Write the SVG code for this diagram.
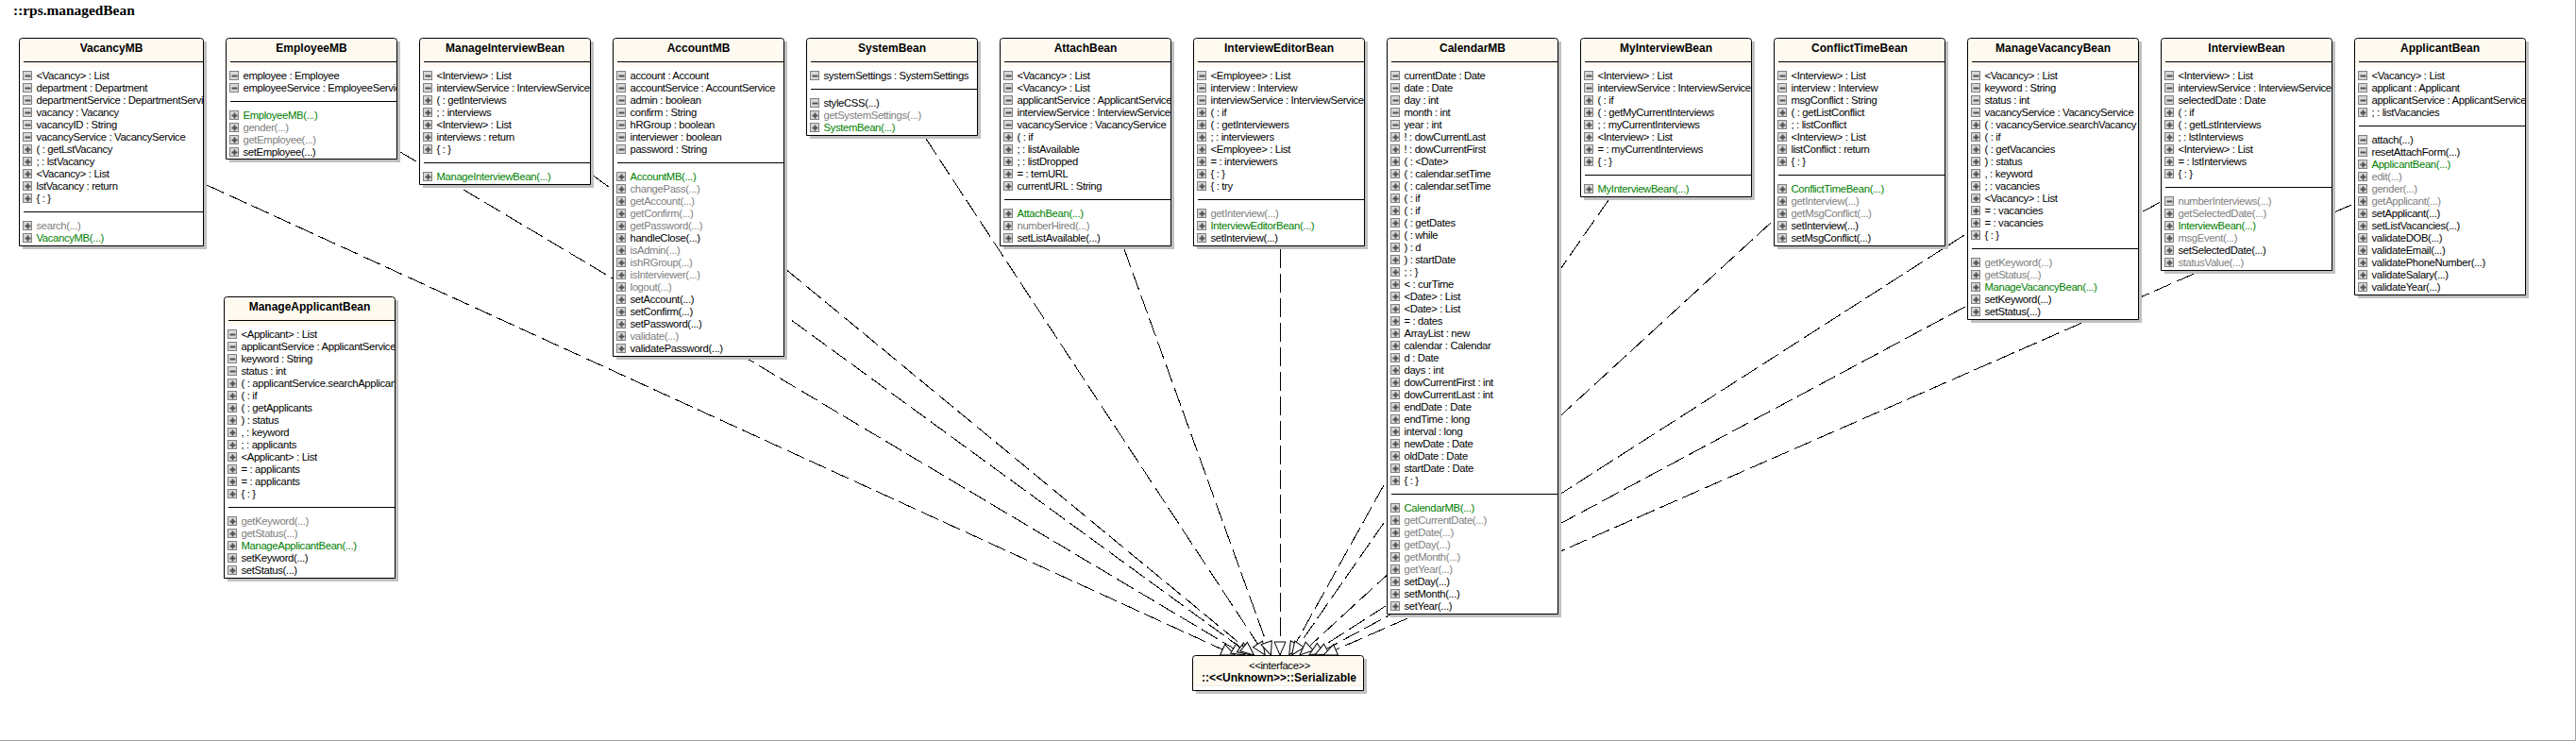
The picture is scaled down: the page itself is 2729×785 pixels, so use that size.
<svg xmlns="http://www.w3.org/2000/svg" xmlns:xlink="http://www.w3.org/1999/xlink" width="2729" height="785" viewBox="0 0 2729 785">
<style>
text{font-family:"Liberation Sans",Arial,sans-serif;font-size:11.3px;letter-spacing:-.35px;fill:#000}
.h{font-family:"Liberation Serif","Times New Roman",serif;font-size:15.4px;font-weight:bold;letter-spacing:0}
.t{font-size:12px;font-weight:bold;text-anchor:middle;letter-spacing:0}
.i{text-anchor:middle}
.g{fill:#808080}
.c{fill:#008000}
.sh{fill:#c0c0c0}
.bg{fill:#fff}
.cr{fill:#fffaf0}
.o{fill:none;stroke:#000;stroke-width:1}
.s{stroke:#000;stroke-width:1;shape-rendering:crispEdges}
.conn line{stroke:#000;stroke-width:1;stroke-dasharray:20 6;shape-rendering:crispEdges;marker-end:url(#tri)}
.frame{fill:none;stroke:#a0a0a0;stroke-width:1}
</style>
<defs>
<marker id="tri" markerUnits="userSpaceOnUse" viewBox="-1 -8 16 16" refX="14" refY="0" markerWidth="16" markerHeight="16" orient="auto"><path d="M0,-6L14,0L0,6Z" fill="#fff" stroke="#000" stroke-width="1"/></marker>
<g id="m"><rect x="0" y="0" width="9" height="9" fill="#d8d8d8" stroke="#808080"/><rect x="2" y="4" width="6" height="2" fill="#505050"/></g>
<g id="p"><rect x="0" y="0" width="9" height="9" fill="#d8d8d8" stroke="#808080"/><rect x="2" y="4" width="6" height="2" fill="#505050"/><rect x="4" y="2" width="2" height="6" fill="#505050"/></g>
<clipPath id="c181"><rect x="0" y="0" width="181" height="700"/></clipPath>
<clipPath id="c195"><rect x="0" y="0" width="195" height="700"/></clipPath>
<path id="cr181" d="M.5,30V3Q.5,.5 3,.5H178Q180.5,.5 180.5,3V30Z"/>
<path id="cr195" d="M.5,30V3Q.5,.5 3,.5H192Q194.5,.5 194.5,3V30Z"/>
</defs>
<rect class="bg" width="2729" height="785"/>
<path class="frame" d="M2728.5,0V784.5H0"/>
<text class="h" x="14" y="16">::rps.managedBean</text>
<g id="connectors" class="conn">
<line x1="219" y1="196" x2="1308" y2="694"/>
<line x1="424" y1="161" x2="1318.8" y2="694"/>
<line x1="629" y1="186.5" x2="1325.2" y2="694"/>
<line x1="834" y1="286.5" x2="1328.5" y2="694"/>
<line x1="981" y1="147" x2="1340.2" y2="694"/>
<line x1="1191" y1="264" x2="1346.4" y2="694"/>
<line x1="1356" y1="264" x2="1356" y2="694"/>
<line x1="1466" y1="514" x2="1365.7" y2="694"/>
<line x1="1704" y1="212" x2="1368.6" y2="694"/>
<line x1="1876" y1="236" x2="1376.9" y2="694"/>
<line x1="2081" y1="249" x2="1386.8" y2="694"/>
<line x1="2288" y1="214.5" x2="1393" y2="694"/>
<line x1="2491" y1="217" x2="1402.2" y2="694"/>
</g>

<g id="VacancyMB" transform="translate(20.5,40.5)">
<rect class="sh" x="3.5" y="3.5" width="195" height="220"/><rect class="bg" width="195" height="220"/><use href="#cr195" class="cr"/>
<path class="o" d="M0,220V3Q0,0 3,0H192Q195,0 195,3V220Z"/>
<path class="s" d="M4,25H195M4,184H195"/>
<g clip-path="url(#c195)">
<text class="t" x="97.5" y="14.5">VacancyMB</text>
<use href="#m" x="4" y="35"/><text x="18" y="43.5">&lt;Vacancy&gt; : List</text>
<use href="#m" x="4" y="48"/><text x="18" y="56.5">department : Department</text>
<use href="#m" x="4" y="61"/><text x="18" y="69.5">departmentService : DepartmentService</text>
<use href="#m" x="4" y="74"/><text x="18" y="82.5">vacancy : Vacancy</text>
<use href="#m" x="4" y="87"/><text x="18" y="95.5">vacancyID : String</text>
<use href="#m" x="4" y="100"/><text x="18" y="108.5">vacancyService : VacancyService</text>
<use href="#p" x="4" y="113"/><text x="18" y="121.5">( : getLstVacancy</text>
<use href="#p" x="4" y="126"/><text x="18" y="134.5">; : lstVacancy</text>
<use href="#p" x="4" y="139"/><text x="18" y="147.5">&lt;Vacancy&gt; : List</text>
<use href="#p" x="4" y="152"/><text x="18" y="160.5">lstVacancy : return</text>
<use href="#p" x="4" y="165"/><text x="18" y="173.5">{ : }</text>
<use href="#p" x="4" y="194"/><text class="g" x="18" y="202.5">search(...)</text>
<use href="#p" x="4" y="207"/><text class="c" x="18" y="215.5">VacancyMB(...)</text>
</g></g>

<g id="EmployeeMB" transform="translate(239.5,40.5)">
<rect class="sh" x="3.5" y="3.5" width="181" height="128"/><rect class="bg" width="181" height="128"/><use href="#cr181" class="cr"/>
<path class="o" d="M0,128V3Q0,0 3,0H178Q181,0 181,3V128Z"/>
<path class="s" d="M4,25H181M4,67H181"/>
<g clip-path="url(#c181)">
<text class="t" x="90.5" y="14.5">EmployeeMB</text>
<use href="#m" x="4" y="35"/><text x="18" y="43.5">employee : Employee</text>
<use href="#m" x="4" y="48"/><text x="18" y="56.5">employeeService : EmployeeService</text>
<use href="#p" x="4" y="77"/><text class="c" x="18" y="85.5">EmployeeMB(...)</text>
<use href="#p" x="4" y="90"/><text class="g" x="18" y="98.5">gender(...)</text>
<use href="#p" x="4" y="103"/><text class="g" x="18" y="111.5">getEmployee(...)</text>
<use href="#p" x="4" y="116"/><text x="18" y="124.5">setEmployee(...)</text>
</g></g>

<g id="ManageInterviewBean" transform="translate(444.5,40.5)">
<rect class="sh" x="3.5" y="3.5" width="181" height="155"/><rect class="bg" width="181" height="155"/><use href="#cr181" class="cr"/>
<path class="o" d="M0,155V3Q0,0 3,0H178Q181,0 181,3V155Z"/>
<path class="s" d="M4,25H181M4,132H181"/>
<g clip-path="url(#c181)">
<text class="t" x="90.5" y="14.5">ManageInterviewBean</text>
<use href="#m" x="4" y="35"/><text x="18" y="43.5">&lt;Interview&gt; : List</text>
<use href="#m" x="4" y="48"/><text x="18" y="56.5">interviewService : InterviewService</text>
<use href="#p" x="4" y="61"/><text x="18" y="69.5">( : getInterviews</text>
<use href="#p" x="4" y="74"/><text x="18" y="82.5">; : interviews</text>
<use href="#p" x="4" y="87"/><text x="18" y="95.5">&lt;Interview&gt; : List</text>
<use href="#p" x="4" y="100"/><text x="18" y="108.5">interviews : return</text>
<use href="#p" x="4" y="113"/><text x="18" y="121.5">{ : }</text>
<use href="#p" x="4" y="142"/><text class="c" x="18" y="150.5">ManageInterviewBean(...)</text>
</g></g>

<g id="AccountMB" transform="translate(649.5,40.5)">
<rect class="sh" x="3.5" y="3.5" width="181" height="337"/><rect class="bg" width="181" height="337"/><use href="#cr181" class="cr"/>
<path class="o" d="M0,337V3Q0,0 3,0H178Q181,0 181,3V337Z"/>
<path class="s" d="M4,25H181M4,132H181"/>
<g clip-path="url(#c181)">
<text class="t" x="90.5" y="14.5">AccountMB</text>
<use href="#m" x="4" y="35"/><text x="18" y="43.5">account : Account</text>
<use href="#m" x="4" y="48"/><text x="18" y="56.5">accountService : AccountService</text>
<use href="#m" x="4" y="61"/><text x="18" y="69.5">admin : boolean</text>
<use href="#m" x="4" y="74"/><text x="18" y="82.5">confirm : String</text>
<use href="#m" x="4" y="87"/><text x="18" y="95.5">hRGroup : boolean</text>
<use href="#m" x="4" y="100"/><text x="18" y="108.5">interviewer : boolean</text>
<use href="#m" x="4" y="113"/><text x="18" y="121.5">password : String</text>
<use href="#p" x="4" y="142"/><text class="c" x="18" y="150.5">AccountMB(...)</text>
<use href="#p" x="4" y="155"/><text class="g" x="18" y="163.5">changePass(...)</text>
<use href="#p" x="4" y="168"/><text class="g" x="18" y="176.5">getAccount(...)</text>
<use href="#p" x="4" y="181"/><text class="g" x="18" y="189.5">getConfirm(...)</text>
<use href="#p" x="4" y="194"/><text class="g" x="18" y="202.5">getPassword(...)</text>
<use href="#p" x="4" y="207"/><text x="18" y="215.5">handleClose(...)</text>
<use href="#p" x="4" y="220"/><text class="g" x="18" y="228.5">isAdmin(...)</text>
<use href="#p" x="4" y="233"/><text class="g" x="18" y="241.5">ishRGroup(...)</text>
<use href="#p" x="4" y="246"/><text class="g" x="18" y="254.5">isInterviewer(...)</text>
<use href="#p" x="4" y="259"/><text class="g" x="18" y="267.5">logout(...)</text>
<use href="#p" x="4" y="272"/><text x="18" y="280.5">setAccount(...)</text>
<use href="#p" x="4" y="285"/><text x="18" y="293.5">setConfirm(...)</text>
<use href="#p" x="4" y="298"/><text x="18" y="306.5">setPassword(...)</text>
<use href="#p" x="4" y="311"/><text class="g" x="18" y="319.5">validate(...)</text>
<use href="#p" x="4" y="324"/><text x="18" y="332.5">validatePassword(...)</text>
</g></g>

<g id="SystemBean" transform="translate(854.5,40.5)">
<rect class="sh" x="3.5" y="3.5" width="181" height="103"/><rect class="bg" width="181" height="103"/><use href="#cr181" class="cr"/>
<path class="o" d="M0,103V3Q0,0 3,0H178Q181,0 181,3V103Z"/>
<path class="s" d="M4,25H181M4,54H181"/>
<g clip-path="url(#c181)">
<text class="t" x="90.5" y="14.5">SystemBean</text>
<use href="#m" x="4" y="35"/><text x="18" y="43.5">systemSettings : SystemSettings</text>
<use href="#m" x="4" y="64"/><text x="18" y="72.5">styleCSS(...)</text>
<use href="#p" x="4" y="77"/><text class="g" x="18" y="85.5">getSystemSettings(...)</text>
<use href="#p" x="4" y="90"/><text class="c" x="18" y="98.5">SystemBean(...)</text>
</g></g>

<g id="AttachBean" transform="translate(1059.5,40.5)">
<rect class="sh" x="3.5" y="3.5" width="181" height="220"/><rect class="bg" width="181" height="220"/><use href="#cr181" class="cr"/>
<path class="o" d="M0,220V3Q0,0 3,0H178Q181,0 181,3V220Z"/>
<path class="s" d="M4,25H181M4,171H181"/>
<g clip-path="url(#c181)">
<text class="t" x="90.5" y="14.5">AttachBean</text>
<use href="#m" x="4" y="35"/><text x="18" y="43.5">&lt;Vacancy&gt; : List</text>
<use href="#m" x="4" y="48"/><text x="18" y="56.5">&lt;Vacancy&gt; : List</text>
<use href="#m" x="4" y="61"/><text x="18" y="69.5">applicantService : ApplicantService</text>
<use href="#m" x="4" y="74"/><text x="18" y="82.5">interviewService : InterviewService</text>
<use href="#m" x="4" y="87"/><text x="18" y="95.5">vacancyService : VacancyService</text>
<use href="#p" x="4" y="100"/><text x="18" y="108.5">( : if</text>
<use href="#p" x="4" y="113"/><text x="18" y="121.5">; : listAvailable</text>
<use href="#p" x="4" y="126"/><text x="18" y="134.5">; : listDropped</text>
<use href="#p" x="4" y="139"/><text x="18" y="147.5">= : temURL</text>
<use href="#p" x="4" y="152"/><text x="18" y="160.5">currentURL : String</text>
<use href="#p" x="4" y="181"/><text class="c" x="18" y="189.5">AttachBean(...)</text>
<use href="#p" x="4" y="194"/><text class="g" x="18" y="202.5">numberHired(...)</text>
<use href="#p" x="4" y="207"/><text x="18" y="215.5">setListAvailable(...)</text>
</g></g>

<g id="InterviewEditorBean" transform="translate(1264.5,40.5)">
<rect class="sh" x="3.5" y="3.5" width="181" height="220"/><rect class="bg" width="181" height="220"/><use href="#cr181" class="cr"/>
<path class="o" d="M0,220V3Q0,0 3,0H178Q181,0 181,3V220Z"/>
<path class="s" d="M4,25H181M4,171H181"/>
<g clip-path="url(#c181)">
<text class="t" x="90.5" y="14.5">InterviewEditorBean</text>
<use href="#m" x="4" y="35"/><text x="18" y="43.5">&lt;Employee&gt; : List</text>
<use href="#m" x="4" y="48"/><text x="18" y="56.5">interview : Interview</text>
<use href="#m" x="4" y="61"/><text x="18" y="69.5">interviewService : InterviewService</text>
<use href="#p" x="4" y="74"/><text x="18" y="82.5">( : if</text>
<use href="#p" x="4" y="87"/><text x="18" y="95.5">( : getInterviewers</text>
<use href="#p" x="4" y="100"/><text x="18" y="108.5">; : interviewers</text>
<use href="#p" x="4" y="113"/><text x="18" y="121.5">&lt;Employee&gt; : List</text>
<use href="#p" x="4" y="126"/><text x="18" y="134.5">= : interviewers</text>
<use href="#p" x="4" y="139"/><text x="18" y="147.5">{ : }</text>
<use href="#p" x="4" y="152"/><text x="18" y="160.5">{ : try</text>
<use href="#p" x="4" y="181"/><text class="g" x="18" y="189.5">getInterview(...)</text>
<use href="#p" x="4" y="194"/><text class="c" x="18" y="202.5">InterviewEditorBean(...)</text>
<use href="#p" x="4" y="207"/><text x="18" y="215.5">setInterview(...)</text>
</g></g>

<g id="CalendarMB" transform="translate(1469.5,40.5)">
<rect class="sh" x="3.5" y="3.5" width="181" height="610"/><rect class="bg" width="181" height="610"/><use href="#cr181" class="cr"/>
<path class="o" d="M0,610V3Q0,0 3,0H178Q181,0 181,3V610Z"/>
<path class="s" d="M4,25H181M4,483H181"/>
<g clip-path="url(#c181)">
<text class="t" x="90.5" y="14.5">CalendarMB</text>
<use href="#m" x="4" y="35"/><text x="18" y="43.5">currentDate : Date</text>
<use href="#m" x="4" y="48"/><text x="18" y="56.5">date : Date</text>
<use href="#m" x="4" y="61"/><text x="18" y="69.5">day : int</text>
<use href="#m" x="4" y="74"/><text x="18" y="82.5">month : int</text>
<use href="#m" x="4" y="87"/><text x="18" y="95.5">year : int</text>
<use href="#p" x="4" y="100"/><text x="18" y="108.5">! : dowCurrentLast</text>
<use href="#p" x="4" y="113"/><text x="18" y="121.5">! : dowCurrentFirst</text>
<use href="#p" x="4" y="126"/><text x="18" y="134.5">( : &lt;Date&gt;</text>
<use href="#p" x="4" y="139"/><text x="18" y="147.5">( : calendar.setTime</text>
<use href="#p" x="4" y="152"/><text x="18" y="160.5">( : calendar.setTime</text>
<use href="#p" x="4" y="165"/><text x="18" y="173.5">( : if</text>
<use href="#p" x="4" y="178"/><text x="18" y="186.5">( : if</text>
<use href="#p" x="4" y="191"/><text x="18" y="199.5">( : getDates</text>
<use href="#p" x="4" y="204"/><text x="18" y="212.5">( : while</text>
<use href="#p" x="4" y="217"/><text x="18" y="225.5">) : d</text>
<use href="#p" x="4" y="230"/><text x="18" y="238.5">) : startDate</text>
<use href="#p" x="4" y="243"/><text x="18" y="251.5">; : }</text>
<use href="#p" x="4" y="256"/><text x="18" y="264.5">&lt; : curTime</text>
<use href="#p" x="4" y="269"/><text x="18" y="277.5">&lt;Date&gt; : List</text>
<use href="#p" x="4" y="282"/><text x="18" y="290.5">&lt;Date&gt; : List</text>
<use href="#p" x="4" y="295"/><text x="18" y="303.5">= : dates</text>
<use href="#p" x="4" y="308"/><text x="18" y="316.5">ArrayList : new</text>
<use href="#p" x="4" y="321"/><text x="18" y="329.5">calendar : Calendar</text>
<use href="#p" x="4" y="334"/><text x="18" y="342.5">d : Date</text>
<use href="#p" x="4" y="347"/><text x="18" y="355.5">days : int</text>
<use href="#p" x="4" y="360"/><text x="18" y="368.5">dowCurrentFirst : int</text>
<use href="#p" x="4" y="373"/><text x="18" y="381.5">dowCurrentLast : int</text>
<use href="#p" x="4" y="386"/><text x="18" y="394.5">endDate : Date</text>
<use href="#p" x="4" y="399"/><text x="18" y="407.5">endTime : long</text>
<use href="#p" x="4" y="412"/><text x="18" y="420.5">interval : long</text>
<use href="#p" x="4" y="425"/><text x="18" y="433.5">newDate : Date</text>
<use href="#p" x="4" y="438"/><text x="18" y="446.5">oldDate : Date</text>
<use href="#p" x="4" y="451"/><text x="18" y="459.5">startDate : Date</text>
<use href="#p" x="4" y="464"/><text x="18" y="472.5">{ : }</text>
<use href="#p" x="4" y="493"/><text class="c" x="18" y="501.5">CalendarMB(...)</text>
<use href="#p" x="4" y="506"/><text class="g" x="18" y="514.5">getCurrentDate(...)</text>
<use href="#p" x="4" y="519"/><text class="g" x="18" y="527.5">getDate(...)</text>
<use href="#p" x="4" y="532"/><text class="g" x="18" y="540.5">getDay(...)</text>
<use href="#p" x="4" y="545"/><text class="g" x="18" y="553.5">getMonth(...)</text>
<use href="#p" x="4" y="558"/><text class="g" x="18" y="566.5">getYear(...)</text>
<use href="#p" x="4" y="571"/><text x="18" y="579.5">setDay(...)</text>
<use href="#p" x="4" y="584"/><text x="18" y="592.5">setMonth(...)</text>
<use href="#p" x="4" y="597"/><text x="18" y="605.5">setYear(...)</text>
</g></g>

<g id="MyInterviewBean" transform="translate(1674.5,40.5)">
<rect class="sh" x="3.5" y="3.5" width="181" height="168"/><rect class="bg" width="181" height="168"/><use href="#cr181" class="cr"/>
<path class="o" d="M0,168V3Q0,0 3,0H178Q181,0 181,3V168Z"/>
<path class="s" d="M4,25H181M4,145H181"/>
<g clip-path="url(#c181)">
<text class="t" x="90.5" y="14.5">MyInterviewBean</text>
<use href="#m" x="4" y="35"/><text x="18" y="43.5">&lt;Interview&gt; : List</text>
<use href="#m" x="4" y="48"/><text x="18" y="56.5">interviewService : InterviewService</text>
<use href="#p" x="4" y="61"/><text x="18" y="69.5">( : if</text>
<use href="#p" x="4" y="74"/><text x="18" y="82.5">( : getMyCurrentInterviews</text>
<use href="#p" x="4" y="87"/><text x="18" y="95.5">; : myCurrentInterviews</text>
<use href="#p" x="4" y="100"/><text x="18" y="108.5">&lt;Interview&gt; : List</text>
<use href="#p" x="4" y="113"/><text x="18" y="121.5">= : myCurrentInterviews</text>
<use href="#p" x="4" y="126"/><text x="18" y="134.5">{ : }</text>
<use href="#p" x="4" y="155"/><text class="c" x="18" y="163.5">MyInterviewBean(...)</text>
</g></g>

<g id="ConflictTimeBean" transform="translate(1879.5,40.5)">
<rect class="sh" x="3.5" y="3.5" width="181" height="220"/><rect class="bg" width="181" height="220"/><use href="#cr181" class="cr"/>
<path class="o" d="M0,220V3Q0,0 3,0H178Q181,0 181,3V220Z"/>
<path class="s" d="M4,25H181M4,145H181"/>
<g clip-path="url(#c181)">
<text class="t" x="90.5" y="14.5">ConflictTimeBean</text>
<use href="#m" x="4" y="35"/><text x="18" y="43.5">&lt;Interview&gt; : List</text>
<use href="#m" x="4" y="48"/><text x="18" y="56.5">interview : Interview</text>
<use href="#m" x="4" y="61"/><text x="18" y="69.5">msgConflict : String</text>
<use href="#p" x="4" y="74"/><text x="18" y="82.5">( : getListConflict</text>
<use href="#p" x="4" y="87"/><text x="18" y="95.5">; : listConflict</text>
<use href="#p" x="4" y="100"/><text x="18" y="108.5">&lt;Interview&gt; : List</text>
<use href="#p" x="4" y="113"/><text x="18" y="121.5">listConflict : return</text>
<use href="#p" x="4" y="126"/><text x="18" y="134.5">{ : }</text>
<use href="#p" x="4" y="155"/><text class="c" x="18" y="163.5">ConflictTimeBean(...)</text>
<use href="#p" x="4" y="168"/><text class="g" x="18" y="176.5">getInterview(...)</text>
<use href="#p" x="4" y="181"/><text class="g" x="18" y="189.5">getMsgConflict(...)</text>
<use href="#p" x="4" y="194"/><text x="18" y="202.5">setInterview(...)</text>
<use href="#p" x="4" y="207"/><text x="18" y="215.5">setMsgConflict(...)</text>
</g></g>

<g id="ManageVacancyBean" transform="translate(2084.5,40.5)">
<rect class="sh" x="3.5" y="3.5" width="181" height="298"/><rect class="bg" width="181" height="298"/><use href="#cr181" class="cr"/>
<path class="o" d="M0,298V3Q0,0 3,0H178Q181,0 181,3V298Z"/>
<path class="s" d="M4,25H181M4,223H181"/>
<g clip-path="url(#c181)">
<text class="t" x="90.5" y="14.5">ManageVacancyBean</text>
<use href="#m" x="4" y="35"/><text x="18" y="43.5">&lt;Vacancy&gt; : List</text>
<use href="#m" x="4" y="48"/><text x="18" y="56.5">keyword : String</text>
<use href="#m" x="4" y="61"/><text x="18" y="69.5">status : int</text>
<use href="#m" x="4" y="74"/><text x="18" y="82.5">vacancyService : VacancyService</text>
<use href="#p" x="4" y="87"/><text x="18" y="95.5">( : vacancyService.searchVacancy</text>
<use href="#p" x="4" y="100"/><text x="18" y="108.5">( : if</text>
<use href="#p" x="4" y="113"/><text x="18" y="121.5">( : getVacancies</text>
<use href="#p" x="4" y="126"/><text x="18" y="134.5">) : status</text>
<use href="#p" x="4" y="139"/><text x="18" y="147.5">, : keyword</text>
<use href="#p" x="4" y="152"/><text x="18" y="160.5">; : vacancies</text>
<use href="#p" x="4" y="165"/><text x="18" y="173.5">&lt;Vacancy&gt; : List</text>
<use href="#p" x="4" y="178"/><text x="18" y="186.5">= : vacancies</text>
<use href="#p" x="4" y="191"/><text x="18" y="199.5">= : vacancies</text>
<use href="#p" x="4" y="204"/><text x="18" y="212.5">{ : }</text>
<use href="#p" x="4" y="233"/><text class="g" x="18" y="241.5">getKeyword(...)</text>
<use href="#p" x="4" y="246"/><text class="g" x="18" y="254.5">getStatus(...)</text>
<use href="#p" x="4" y="259"/><text class="c" x="18" y="267.5">ManageVacancyBean(...)</text>
<use href="#p" x="4" y="272"/><text x="18" y="280.5">setKeyword(...)</text>
<use href="#p" x="4" y="285"/><text x="18" y="293.5">setStatus(...)</text>
</g></g>

<g id="InterviewBean" transform="translate(2289.5,40.5)">
<rect class="sh" x="3.5" y="3.5" width="181" height="246"/><rect class="bg" width="181" height="246"/><use href="#cr181" class="cr"/>
<path class="o" d="M0,246V3Q0,0 3,0H178Q181,0 181,3V246Z"/>
<path class="s" d="M4,25H181M4,158H181"/>
<g clip-path="url(#c181)">
<text class="t" x="90.5" y="14.5">InterviewBean</text>
<use href="#m" x="4" y="35"/><text x="18" y="43.5">&lt;Interview&gt; : List</text>
<use href="#m" x="4" y="48"/><text x="18" y="56.5">interviewService : InterviewService</text>
<use href="#m" x="4" y="61"/><text x="18" y="69.5">selectedDate : Date</text>
<use href="#p" x="4" y="74"/><text x="18" y="82.5">( : if</text>
<use href="#p" x="4" y="87"/><text x="18" y="95.5">( : getLstInterviews</text>
<use href="#p" x="4" y="100"/><text x="18" y="108.5">; : lstInterviews</text>
<use href="#p" x="4" y="113"/><text x="18" y="121.5">&lt;Interview&gt; : List</text>
<use href="#p" x="4" y="126"/><text x="18" y="134.5">= : lstInterviews</text>
<use href="#p" x="4" y="139"/><text x="18" y="147.5">{ : }</text>
<use href="#m" x="4" y="168"/><text class="g" x="18" y="176.5">numberInterviews(...)</text>
<use href="#p" x="4" y="181"/><text class="g" x="18" y="189.5">getSelectedDate(...)</text>
<use href="#p" x="4" y="194"/><text class="c" x="18" y="202.5">InterviewBean(...)</text>
<use href="#p" x="4" y="207"/><text class="g" x="18" y="215.5">msgEvent(...)</text>
<use href="#p" x="4" y="220"/><text x="18" y="228.5">setSelectedDate(...)</text>
<use href="#p" x="4" y="233"/><text class="g" x="18" y="241.5">statusValue(...)</text>
</g></g>

<g id="ApplicantBean" transform="translate(2494.5,40.5)">
<rect class="sh" x="3.5" y="3.5" width="181" height="272"/><rect class="bg" width="181" height="272"/><use href="#cr181" class="cr"/>
<path class="o" d="M0,272V3Q0,0 3,0H178Q181,0 181,3V272Z"/>
<path class="s" d="M4,25H181M4,93H181"/>
<g clip-path="url(#c181)">
<text class="t" x="90.5" y="14.5">ApplicantBean</text>
<use href="#m" x="4" y="35"/><text x="18" y="43.5">&lt;Vacancy&gt; : List</text>
<use href="#m" x="4" y="48"/><text x="18" y="56.5">applicant : Applicant</text>
<use href="#m" x="4" y="61"/><text x="18" y="69.5">applicantService : ApplicantService</text>
<use href="#p" x="4" y="74"/><text x="18" y="82.5">; : listVacancies</text>
<use href="#m" x="4" y="103"/><text x="18" y="111.5">attach(...)</text>
<use href="#m" x="4" y="116"/><text x="18" y="124.5">resetAttachForm(...)</text>
<use href="#p" x="4" y="129"/><text class="c" x="18" y="137.5">ApplicantBean(...)</text>
<use href="#p" x="4" y="142"/><text class="g" x="18" y="150.5">edit(...)</text>
<use href="#p" x="4" y="155"/><text class="g" x="18" y="163.5">gender(...)</text>
<use href="#p" x="4" y="168"/><text class="g" x="18" y="176.5">getApplicant(...)</text>
<use href="#p" x="4" y="181"/><text x="18" y="189.5">setApplicant(...)</text>
<use href="#p" x="4" y="194"/><text x="18" y="202.5">setListVacancies(...)</text>
<use href="#p" x="4" y="207"/><text x="18" y="215.5">validateDOB(...)</text>
<use href="#p" x="4" y="220"/><text x="18" y="228.5">validateEmail(...)</text>
<use href="#p" x="4" y="233"/><text x="18" y="241.5">validatePhoneNumber(...)</text>
<use href="#p" x="4" y="246"/><text x="18" y="254.5">validateSalary(...)</text>
<use href="#p" x="4" y="259"/><text x="18" y="267.5">validateYear(...)</text>
</g></g>

<g id="ManageApplicantBean" transform="translate(237.5,314.5)">
<rect class="sh" x="3.5" y="3.5" width="181" height="298"/><rect class="bg" width="181" height="298"/><use href="#cr181" class="cr"/>
<path class="o" d="M0,298V3Q0,0 3,0H178Q181,0 181,3V298Z"/>
<path class="s" d="M4,25H181M4,223H181"/>
<g clip-path="url(#c181)">
<text class="t" x="90.5" y="14.5">ManageApplicantBean</text>
<use href="#m" x="4" y="35"/><text x="18" y="43.5">&lt;Applicant&gt; : List</text>
<use href="#m" x="4" y="48"/><text x="18" y="56.5">applicantService : ApplicantService</text>
<use href="#m" x="4" y="61"/><text x="18" y="69.5">keyword : String</text>
<use href="#m" x="4" y="74"/><text x="18" y="82.5">status : int</text>
<use href="#p" x="4" y="87"/><text x="18" y="95.5">( : applicantService.searchApplicant</text>
<use href="#p" x="4" y="100"/><text x="18" y="108.5">( : if</text>
<use href="#p" x="4" y="113"/><text x="18" y="121.5">( : getApplicants</text>
<use href="#p" x="4" y="126"/><text x="18" y="134.5">) : status</text>
<use href="#p" x="4" y="139"/><text x="18" y="147.5">, : keyword</text>
<use href="#p" x="4" y="152"/><text x="18" y="160.5">; : applicants</text>
<use href="#p" x="4" y="165"/><text x="18" y="173.5">&lt;Applicant&gt; : List</text>
<use href="#p" x="4" y="178"/><text x="18" y="186.5">= : applicants</text>
<use href="#p" x="4" y="191"/><text x="18" y="199.5">= : applicants</text>
<use href="#p" x="4" y="204"/><text x="18" y="212.5">{ : }</text>
<use href="#p" x="4" y="233"/><text class="g" x="18" y="241.5">getKeyword(...)</text>
<use href="#p" x="4" y="246"/><text class="g" x="18" y="254.5">getStatus(...)</text>
<use href="#p" x="4" y="259"/><text class="c" x="18" y="267.5">ManageApplicantBean(...)</text>
<use href="#p" x="4" y="272"/><text x="18" y="280.5">setKeyword(...)</text>
<use href="#p" x="4" y="285"/><text x="18" y="293.5">setStatus(...)</text>
</g></g>

<g id="Serializable" transform="translate(1263.5,694.5)">
<rect class="sh" x="3.5" y="3.5" width="181" height="37"/><rect class="cr" width="181" height="32"/><rect class="bg" y="32" width="181" height="5"/>
<path class="o" d="M0,37V3Q0,0 3,0H178Q181,0 181,3V37Z"/>
<text class="i" x="92" y="14.5">&lt;&lt;interface&gt;&gt;</text>
<text class="t" x="91.5" y="27.5">::&lt;&lt;Unknown&gt;&gt;::Serializable</text>
</g>
</svg>
